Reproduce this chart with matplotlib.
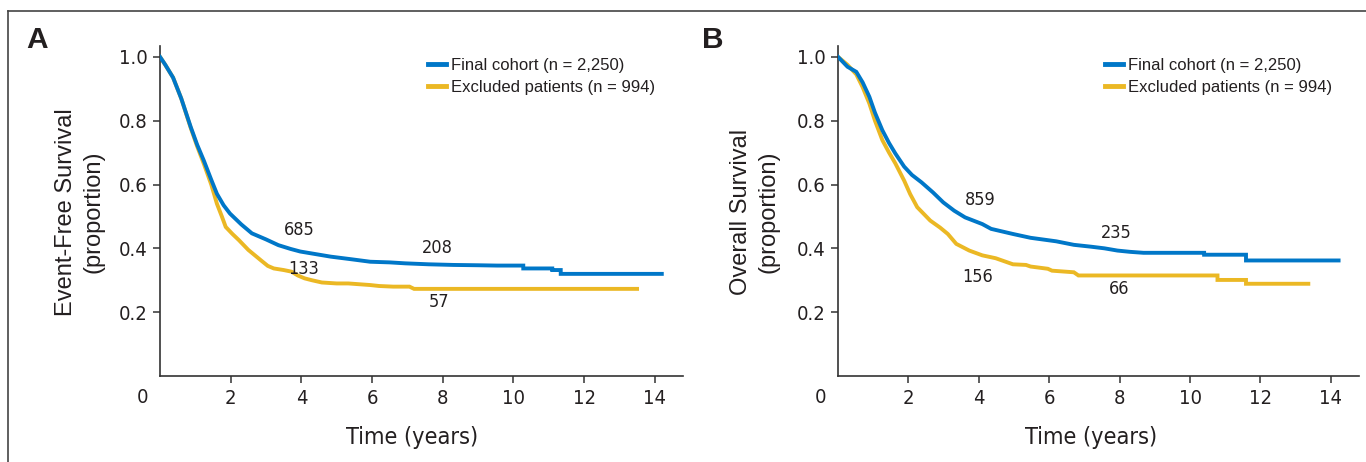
import matplotlib
matplotlib.use("Agg")
import matplotlib.pyplot as plt
from matplotlib.lines import Line2D
from matplotlib import font_manager

# 数据：Kaplan-Meier 曲线点（时间/年，生存比例）
efs_final_t = [0, 0.15, 0.37, 0.6, 0.87, 1.05, 1.24, 1.45, 1.61, 1.8, 1.98, 2.3, 2.6, 3.0, 3.35, 3.7,
               3.97, 4.4, 4.83, 5.4, 5.95, 6.5, 6.94, 7.6, 8.3, 9.0, 9.54, 10.28, 10.28, 11.1, 11.1,
               11.34, 11.34, 14.2]
efs_final_s = [1.0, 0.975, 0.935, 0.87, 0.78, 0.725, 0.675, 0.615, 0.571, 0.535, 0.509, 0.475, 0.447,
               0.428, 0.41, 0.398, 0.39, 0.382, 0.374, 0.366, 0.358, 0.356, 0.353, 0.35, 0.348, 0.347,
               0.346, 0.346, 0.337, 0.337, 0.332, 0.332, 0.32, 0.32]

efs_excl_t = [0, 0.15, 0.37, 0.6, 0.87, 1.05, 1.24, 1.45, 1.61, 1.75, 1.86, 2.05, 2.23, 2.5, 2.85, 3.05,
              3.22, 3.5, 3.72, 3.9, 4.09, 4.3, 4.58, 5.0, 5.33, 5.7, 5.95, 6.2, 6.6, 7.06, 7.19, 13.5]
efs_excl_s = [1.0, 0.975, 0.935, 0.87, 0.777, 0.72, 0.665, 0.6, 0.54, 0.5, 0.467, 0.445, 0.426, 0.395,
              0.363, 0.345, 0.337, 0.332, 0.327, 0.315, 0.306, 0.3, 0.293, 0.29, 0.29, 0.287, 0.285,
              0.282, 0.28, 0.28, 0.273, 0.273]

os_final_t = [0, 0.27, 0.52, 0.7, 0.89, 1.05, 1.26, 1.45, 1.63, 1.88, 2.1, 2.37, 2.7, 2.99, 3.3, 3.61,
              4.1, 4.35, 4.97, 5.47, 6.2, 6.7, 7.2, 7.57, 7.94, 8.3, 8.68, 10.4, 10.4, 11.59, 11.59, 14.22]
os_final_s = [1.0, 0.969, 0.953, 0.92, 0.875, 0.825, 0.77, 0.73, 0.697, 0.656, 0.63, 0.607, 0.575, 0.544,
              0.518, 0.497, 0.476, 0.461, 0.445, 0.433, 0.422, 0.411, 0.405, 0.40, 0.393, 0.389, 0.386,
              0.386, 0.38, 0.38, 0.362, 0.362]

os_excl_t = [0, 0.27, 0.52, 0.7, 0.89, 1.05, 1.26, 1.45, 1.63, 1.88, 2.05, 2.25, 2.62, 2.9, 3.12, 3.36,
             3.73, 4.1, 4.48, 4.97, 5.34, 5.47, 5.96, 6.08, 6.7, 6.83, 10.78, 10.78, 11.59, 11.59, 13.36]
os_excl_s = [1.0, 0.975, 0.945, 0.905, 0.854, 0.8, 0.739, 0.7, 0.666, 0.612, 0.57, 0.529, 0.487, 0.465,
             0.445, 0.414, 0.393, 0.378, 0.369, 0.35, 0.348, 0.343, 0.336, 0.33, 0.325, 0.315, 0.315,
             0.301, 0.301, 0.289, 0.289]

labels = ['Final cohort (n = 2,250)', 'Excluded patients (n = 994)']

# 风险人数标注：(x, y, 文本)
efs_risk = [(3.95, 0.458, '685'), (7.85, 0.40, '208'), (4.07, 0.335, '133'), (7.9, 0.232, '57')]
os_risk = [(4.05, 0.552, '859'), (7.9, 0.449, '235'), (3.97, 0.311, '156'), (8.0, 0.274, '66')]

x_ticks = [2, 4, 6, 8, 10, 12, 14]
y_ticks = [0.2, 0.4, 0.6, 0.8, 1.0]

BLUE = '#0077C8'
YELLOW = '#EBB824'
TXT = '#231f20'
REG = ['Liberation Sans', 'DejaVu Sans']

# 找一个窄体字体，没有就用 DejaVu Sans 的 condensed
names = set(f.name for f in font_manager.fontManager.ttflist)
cond = [f for f in font_manager.fontManager.ttflist
        if f.name in ('Liberation Sans Narrow', 'DejaVu Sans Condensed', 'DejaVu Sans')
        and f.stretch in ('condensed', 'semi-condensed', 'extra-condensed', 600, 700, 'narrow')]
if 'Liberation Sans Narrow' in names:
    NARROW = dict(family='Liberation Sans Narrow')
elif 'DejaVu Sans Condensed' in names:
    NARROW = dict(family='DejaVu Sans Condensed')
elif cond:
    NARROW = dict(family=cond[0].name, stretch='condensed')
else:
    NARROW = dict(family='Liberation Sans')

plt.rcParams['font.family'] = REG

fig = plt.figure(figsize=(13.66, 4.62), dpi=100)
W, H = 1366, 462


def draw_panel(left_px, right_px, letter, letter_x, ylabel, ylab_x, xlab_x, t1, s1, t2, s2, risk):
    ax = fig.add_axes([left_px / W, 86 / H, (right_px - left_px) / W, 330 / H])
    ax.plot(t1, s1, color=BLUE, lw=2.8, solid_joinstyle='miter', label=labels[0], zorder=3)
    ax.plot(t2, s2, color=YELLOW, lw=2.8, solid_joinstyle='miter', label=labels[1], zorder=2)
    ax.set_xlim(0, 14.8)
    ax.set_ylim(0, 1.034)
    ax.set_xticks(x_ticks)
    ax.set_yticks(y_ticks)
    ax.set_yticklabels(['%.1f' % v for v in y_ticks])
    for sp in ['top', 'right']:
        ax.spines[sp].set_visible(False)
    for sp in ['left', 'bottom']:
        ax.spines[sp].set_color('#333333')
        ax.spines[sp].set_linewidth(1.2)
    ax.tick_params(direction='out', length=5, width=1.1, color='#333333', pad=4,
                   labelsize=14.5, labelcolor=TXT)
    for lab in ax.get_xticklabels() + ax.get_yticklabels():
        lab.update(NARROW)
    ax.annotate('0', xy=(0, 0), xycoords='axes fraction', xytext=(-17, -12),
                textcoords='offset pixels', ha='center', va='top', fontsize=14.5,
                color=TXT, **NARROW)
    ax.set_xlabel('Time (years)', fontsize=16.8, color=TXT, va='center', **NARROW)
    ax.xaxis.set_label_coords(xlab_x, -0.185)
    for x, y, s in risk:
        ax.text(x, y, s, ha='center', va='center', fontsize=13, color=TXT, **NARROW)
    leg = ax.legend(loc='upper left', bbox_to_anchor=(0.513, 0.964),
                    frameon=False, fontsize=12, handlelength=1.05, handletextpad=0.3,
                    labelspacing=0.4, borderpad=0, borderaxespad=0)
    for line in leg.get_lines():
        line.set_linewidth(3.5)
    for t in leg.get_texts():
        t.set_color(TXT)
    fig.text(letter_x / W, 1 - 40 / H, letter, fontsize=21.5, fontweight='bold', color=TXT,
             ha='center', va='center')
    fig.text(ylab_x / W, 1 - 212 / H, ylabel, rotation=90, fontsize=17, color=TXT,
             ha='center', va='center', multialignment='center', linespacing=1.3)
    return ax


draw_panel(160, 683, 'A', 37, 'Event-Free Survival\n(proportion)', 80, 0.482,
           efs_final_t, efs_final_s, efs_excl_t, efs_excl_s, efs_risk)
draw_panel(838, 1359, 'B', 713, 'Overall Survival\n(proportion)', 755, 0.486,
           os_final_t, os_final_s, os_excl_t, os_excl_s, os_risk)

# 外框（上边和左边）
fig.add_artist(Line2D([8 / W, 8 / W], [0, 1 - 11 / H], color='#444444', lw=1.2))
fig.add_artist(Line2D([8 / W, 1.0], [1 - 11 / H, 1 - 11 / H], color='#444444', lw=1.2))

fig.savefig('out.png', dpi=100)
